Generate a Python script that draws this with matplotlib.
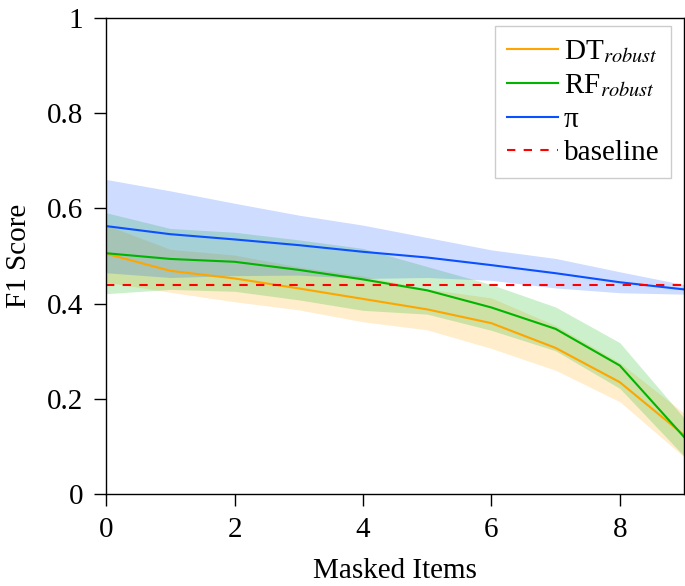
import matplotlib
matplotlib.use("Agg")
import matplotlib.pyplot as plt
import numpy as np
from matplotlib.ticker import FuncFormatter

plt.rcParams['font.family'] = ['Liberation Serif', 'DejaVu Serif']
plt.rcParams['mathtext.fontset'] = 'stix'

masked_items = [0, 1, 2, 3, 4, 5, 6, 7, 8, 9]

dt_mean = [0.505, 0.469, 0.453, 0.432, 0.410, 0.388, 0.359, 0.307, 0.235, 0.124]
dt_std = [0.060, 0.045, 0.049, 0.045, 0.048, 0.043, 0.053, 0.047, 0.041, 0.046]

rf_mean = [0.506, 0.494, 0.488, 0.471, 0.451, 0.428, 0.392, 0.347, 0.270, 0.120]
rf_std = [0.085, 0.064, 0.062, 0.063, 0.065, 0.050, 0.048, 0.046, 0.048, 0.040]

pi_mean = [0.563, 0.546, 0.535, 0.523, 0.509, 0.497, 0.481, 0.464, 0.445, 0.430]
pi_std = [0.098, 0.091, 0.076, 0.063, 0.056, 0.042, 0.032, 0.031, 0.022, 0.010]

baseline = 0.44

series = [
    ("DT$_{robust}$", dt_mean, dt_std, "#FFA500"),
    ("RF$_{robust}$", rf_mean, rf_std, "#00B400"),
    ("π", pi_mean, pi_std, "#0A50FF"),
]

FS = 21

fig = plt.figure(figsize=(6.85, 5.86), dpi=100)
ax = fig.add_axes([0.155, 0.157, 0.8435, 0.812])

x = np.array(masked_items)
for label, m, s, c in series:
    m = np.array(m); s = np.array(s)
    ax.fill_between(x, m - s, m + s, color=c, alpha=0.2, linewidth=0)
for label, m, s, c in series:
    ax.plot(x, m, color=c, linewidth=1.5, label=label)
ax.axhline(baseline, color="red", linestyle=(0, (4, 4)), linewidth=1.5, label="baseline")

ax.set_xlim(0, 9)
ax.set_ylim(0, 1)
ax.set_xticks([0, 2, 4, 6, 8])
ax.set_yticks([0, 0.2, 0.4, 0.6, 0.8, 1.0])
ax.yaxis.set_major_formatter(FuncFormatter(lambda v, p: f"{v:g}"))
ax.tick_params(direction="out", length=8.5, width=1, labelsize=FS, pad=8)
ax.set_xlabel("Masked Items", fontsize=FS, labelpad=11)
ax.set_ylabel("F1 Score", fontsize=FS, labelpad=11)
for sp in ax.spines.values():
    sp.set_linewidth(1)

leg = ax.legend(loc="upper right", bbox_to_anchor=(0.9775, 0.983), fontsize=FS,
                fancybox=False, edgecolor="#cccccc", framealpha=1,
                handlelength=1.75, borderpad=0.4, labelspacing=0.25,
                handletextpad=0.2, borderaxespad=0)
leg.get_frame().set_linewidth(1)

fig.savefig("out.png", dpi=100)
